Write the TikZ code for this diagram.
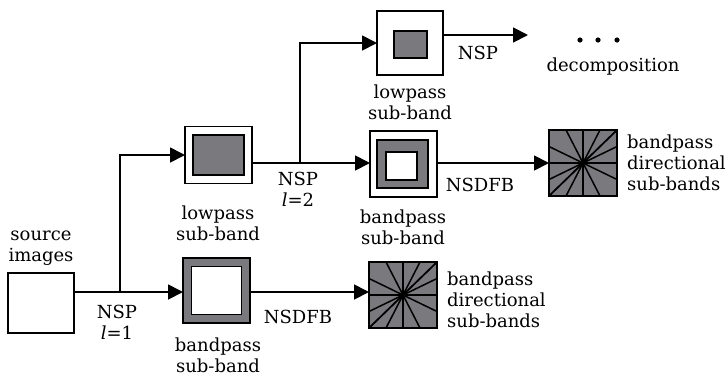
\documentclass[tikz,border=0pt]{standalone}
\usepackage{fontspec}
\setmainfont{DejaVu Serif}
\usetikzlibrary{arrows.meta,calc}
\definecolor{bandgray}{RGB}{122,122,126}
\tikzset{
  box/.style={draw=black,line width=1.2pt,inner sep=0pt,outer sep=0pt},
  outerbox/.style={box,fill=white},
  graybox/.style={box,fill=bandgray},
  whitebox/.style={box,fill=white},
  dirbox/.style={box,fill=bandgray,minimum width=68pt,minimum height=66pt},
  lbl/.style={font=\fontsize{18}{21}\selectfont,align=center,inner sep=0pt},
  flow/.style={line width=1.8pt,-{Triangle[length=15pt,width=15pt]}},
  link/.style={line width=1.8pt}
}
\begin{document}
\begin{tikzpicture}[x=1pt,y=-1pt]
		\useasboundingbox (0,0) rectangle (727,376);

		%source
		\node[outerbox,minimum width=66pt,minimum height=60pt] (src) at (41,303) {};
		\node[lbl] (srclbl) at (41,248) {source\\images};

		%first level
		\node[outerbox,minimum width=67pt,minimum height=57pt] (lp1) at (218.5,155) {};
		\node[graybox,minimum width=51pt,minimum height=40pt] (lp1in) at (lp1.center) {};
		\node[lbl] (lp1lbl) at (218,223) {lowpass\\sub-band};

		\node[graybox,minimum width=67pt,minimum height=65pt] (bp1) at (216.5,290.5) {};
		\node[whitebox,minimum width=50pt,minimum height=48pt] (bp1in) at (bp1.center) {};
		\node[lbl] (bp1lbl) at (218,355) {bandpass\\sub-band};

		%second level
		\node[outerbox,minimum width=66pt,minimum height=64pt] (lp2) at (410,43) {};
		\node[graybox,minimum width=33pt,minimum height=27pt] (lp2in) at (410.5,44.5) {};
		\node[lbl] (lp2lbl) at (410,102) {lowpass\\sub-band};

		\node[outerbox,minimum width=67pt,minimum height=66pt] (bp2) at (403.5,164) {};
		\node[graybox,minimum width=51pt,minimum height=48pt] (bp2mid) at (402.5,164) {};
		\node[whitebox,minimum width=31pt,minimum height=28pt] (bp2in) at (401.5,166) {};
		\node[lbl] (bp2lbl) at (403,227) {bandpass\\sub-band};

		%directional sub-bands
		\node[dirbox] (dir1) at (403,295) {};
		\node[dirbox] (dir2) at (583,163) {};
		\foreach \d in {dir1,dir2}{
			\foreach \t in {-1,-0.5,0,0.5}{
				\draw[line width=1.5pt] ($(\d.center)+(\t*34,33)$) -- ($(\d.center)+(-\t*34,-33)$);
				\draw[line width=1.5pt] ($(\d.center)+(34,\t*33)$) -- ($(\d.center)+(-34,-\t*33)$);
			}
			\node[box,minimum width=68pt,minimum height=66pt] at (\d.center) {};
		}
		\node[lbl,anchor=west,align=left] (dir1lbl) at (447,300) {bandpass\\directional\\sub-bands};
		\node[lbl,anchor=west,align=left] (dir2lbl) at (627,163) {bandpass\\directional\\sub-bands};

		%next decomposition
		\foreach \x in {580,598,617} \fill (\x,40) circle (2.6pt);
		\node[lbl] (declbl) at (613,67) {decomposition};
		\coordinate (nxt) at (528,35);

		%connectors
		\coordinate (j1) at (120,292);
		\draw[flow] (src.east |- j1) -- (j1) -- (bp1.west |- j1);
		\draw[flow] (j1) |- (lp1.west);
		\coordinate (j2) at (300,163);
		\draw[flow] (lp1.east |- j2) -- (j2) -- (bp2.west |- j2);
		\draw[flow] (j2) |- (lp2.west);
		\draw[flow] (lp2.east |- nxt) -- (nxt);
		\draw[flow] (bp2.east |- j2) -- (dir2.west |- j2);
		\draw[flow] (bp1.east |- j1) -- (dir1.west |- j1);

		%filter labels
		\node[lbl] (nsp1) at (117,322) {NSP\\\textit{l}=1};
		\node[lbl] (nsp2) at (298,189) {NSP\\\textit{l}=2};
		\node[lbl] (nsp3) at (478,53) {NSP};
		\node[lbl] (dfb2) at (480,185) {NSDFB};
		\node[lbl] (dfb1) at (298,317) {NSDFB};
\end{tikzpicture}
\end{document}
